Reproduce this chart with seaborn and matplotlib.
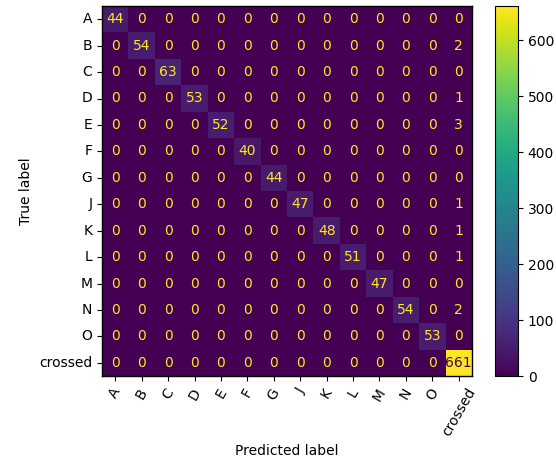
import numpy as np
import pandas as pd
import matplotlib
matplotlib.use("Agg")
import matplotlib.pyplot as plt
import seaborn as sns

# class labels and confusion matrix counts
labels = ['A', 'B', 'C', 'D', 'E', 'F', 'G', 'J', 'K', 'L', 'M', 'N', 'O', 'crossed']
diagonal = [44, 54, 63, 53, 52, 40, 44, 47, 48, 51, 47, 54, 53, 661]
# counts predicted as "crossed" for each true class
crossed_col = [0, 2, 0, 1, 3, 0, 0, 1, 1, 1, 0, 2, 0, 661]

n = len(labels)
cm = np.zeros((n, n), dtype=int)
for i in range(n):
    cm[i, i] = diagonal[i]
    cm[i, n - 1] = crossed_col[i]
df = pd.DataFrame(cm, index=labels, columns=labels)

fig = plt.figure(figsize=(5.56, 4.62), dpi=100)
ax = fig.add_axes([102 / 556, 86 / 462, 370 / 556, 370 / 462])
cax = fig.add_axes([495 / 556, 86 / 462, 23 / 556, 370 / 462])

sns.heatmap(df, annot=True, fmt='d', cmap='viridis', ax=ax, cbar_ax=cax,
            vmin=0, vmax=cm.max(), annot_kws={'fontsize': 10})

# sklearn-style text colours: bright on dark cells, dark on bright cells
cmap = plt.get_cmap('viridis')
thresh = (cm.max() + cm.min()) / 2.0
for t in ax.texts:
    v = int(t.get_text())
    t.set_color(cmap(0.0) if v >= thresh else cmap(1.0))

for s in ax.spines.values():
    s.set_visible(True)
    s.set_linewidth(1.0)
    s.set_color('black')
ax.tick_params(length=3.5, width=0.8, labelsize=10)
ax.set_yticklabels(labels, rotation=0)
ax.set_xticklabels(labels, rotation=60, ha='center')
ax.set_xlabel('Predicted label', fontsize=10)
ax.set_ylabel('True label', fontsize=10)

cb = ax.collections[0].colorbar
cb.outline.set_visible(True)
cb.outline.set_linewidth(0.8)
cb.set_ticks([0, 100, 200, 300, 400, 500, 600])
cax.tick_params(length=3.5, width=0.8, labelsize=10)

fig.savefig('out.png', dpi=100)
